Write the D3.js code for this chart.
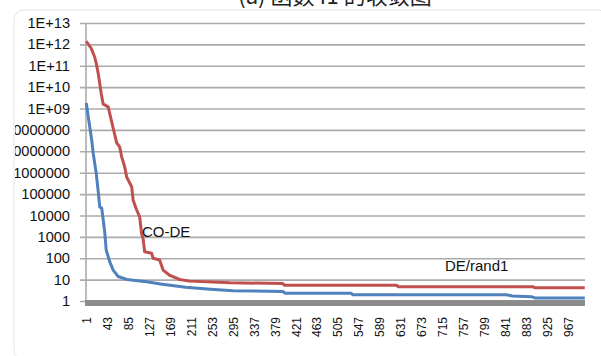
<!DOCTYPE html>
<html>
<head>
<meta charset="utf-8">
<script src="https://cdn.jsdelivr.net/npm/d3@7"></script>
<style>
  html, body { margin: 0; padding: 0; background: #fff; }
  svg { display: block; }
</style>
</head>
<body>
<svg id="chart" width="601" height="356"></svg>
<script>
// Convergence of best fitness per generation (log scale)
const redGen = [1, 11, 18, 21, 25, 28, 31, 35, 45, 48, 55, 62, 68, 72, 78, 82, 92, 95, 102, 108, 112, 115, 118, 132, 135, 148, 155, 168, 188, 208, 289, 395, 398, 623, 626, 896, 900, 1000];
const redVal = [1.4e12, 6.5e11, 2.5e11, 1.3e11, 4.4e10, 1.5e10, 5e9, 1.6e9, 1.2e9, 5.9e8, 1.2e8, 2.5e7, 1.6e7, 5.5e6, 1.9e6, 6.3e5, 2.2e5, 5.2e4, 1.8e4, 8.7e3, 1.4e3, 800, 200, 170, 100, 83, 28, 16, 10.2, 8.5, 7.1, 6.6, 5.5, 5.5, 4.7, 4.7, 4.2, 4.2];

const blueGen = [1, 6, 12, 15, 21, 25, 28, 32, 35, 38, 41, 48, 55, 65, 82, 122, 150, 200, 250, 295, 395, 400, 532, 535, 843, 855, 893, 900, 1000];
const blueVal = [1.8e9, 2.9e8, 3.3e7, 7.9e6, 9.3e5, 1.3e5, 2.5e4, 2.2e4, 6.2e3, 1.7e3, 240, 69, 28, 14, 10.2, 7.9, 6.3, 4.4, 3.5, 3.0, 2.8, 2.3, 2.3, 1.95, 1.95, 1.7, 1.6, 1.4, 1.4];

const yTickValues = [1, 10, 100, 1e3, 1e4, 1e5, 1e6, 1e7, 1e8, 1e9, 1e10, 1e11, 1e12, 1e13];
const yTickLabels = ["1", "10", "100", "1000", "10000", "100000", "1000000", "10000000", "100000000", "1E+09", "1E+10", "1E+11", "1E+12", "1E+13"];
const xTickLabels = [1, 43, 85, 127, 169, 211, 253, 295, 337, 379, 421, 463, 505, 547, 589, 631, 673, 715, 757, 799, 841, 883, 925, 967];

const seriesNames = ["CO-DE", "DE/rand1"];

const svg = d3.select("#chart");
const plotLeft = 86, plotRight = 585, plotTop = 23, plotBottom = 301;
const frameLeft = 14;

const x = d3.scaleLinear().domain([0.5, 1000.5]).range([plotLeft, plotRight]);
const y = d3.scaleLog().domain([1, 1e13]).range([plotBottom, plotTop]);

// value labels are clipped to the chart frame
svg.append("defs").append("clipPath").attr("id", "frameClip")
  .append("rect")
  .attr("x", frameLeft + 1).attr("y", 0)
  .attr("width", 601).attr("height", 356);

// title (partly above the frame)
svg.append("text")
  .attr("x", 335).attr("y", 4)
  .attr("text-anchor", "middle")
  .attr("font-family", "Noto Sans CJK SC, sans-serif")
  .attr("font-size", 22)
  .attr("fill", "#222")
  .text("(a) 函数 f1 的收敛图");

// chart area border
svg.append("rect")
  .attr("x", frameLeft).attr("y", 10).attr("width", 594).attr("height", 350)
  .attr("rx", 10)
  .attr("fill", "none").attr("stroke", "#e4e4e4").attr("stroke-width", 1);

// horizontal gridlines with tick stubs
const yAxis = d3.axisLeft(y)
  .tickValues(yTickValues)
  .tickSize(plotRight - plotLeft + 6)
  .tickFormat((d, i) => yTickLabels[i]);

const gy = svg.append("g")
  .attr("transform", `translate(${plotRight},0)`)
  .call(yAxis);
gy.select(".domain").remove();
gy.selectAll(".tick line").attr("stroke", "#ababab").attr("stroke-width", 1.6);
gy.selectAll(".tick text").remove();

// value axis labels, in a group clipped at the frame edge
svg.append("g")
  .attr("clip-path", "url(#frameClip)")
  .selectAll("text")
  .data(yTickValues)
  .join("text")
  .attr("x", 70)
  .attr("y", d => y(d))
  .attr("dy", "0.35em")
  .attr("text-anchor", "end")
  .attr("font-family", "Liberation Sans, Arial, sans-serif")
  .attr("font-size", 14.6)
  .attr("fill", "#111")
  .text((d, i) => yTickLabels[i]);

// vertical axis line
svg.append("line")
  .attr("x1", plotLeft).attr("x2", plotLeft)
  .attr("y1", plotTop).attr("y2", plotBottom)
  .attr("stroke", "#ababab").attr("stroke-width", 1.6);

// category axis
const xAxis = d3.axisBottom(x)
  .tickValues(xTickLabels)
  .tickSize(0)
  .tickFormat(d => String(d));
const gx = svg.append("g")
  .attr("transform", `translate(0,${plotBottom})`)
  .call(xAxis);
gx.select(".domain").remove();
gx.selectAll(".tick text")
  .attr("transform", "rotate(-90)")
  .attr("x", -16).attr("y", 0)
  .attr("dy", "0.35em")
  .attr("text-anchor", "end")
  .attr("font-family", "Liberation Sans, Arial, sans-serif")
  .attr("font-size", 12)
  .attr("fill", "#111");

// thick base line
svg.append("rect")
  .attr("x", plotLeft - 1).attr("y", plotBottom - 1)
  .attr("width", plotRight - plotLeft + 1).attr("height", 6)
  .attr("fill", "#8c8c8c");

const line = d3.line()
  .x(d => x(d[0]))
  .y(d => y(d[1]));

svg.append("path")
  .datum(d3.zip(blueGen, blueVal))
  .attr("d", line)
  .attr("fill", "none")
  .attr("stroke", "#4F81BD")
  .attr("stroke-width", 3)
  .attr("stroke-linejoin", "round");

svg.append("path")
  .datum(d3.zip(redGen, redVal))
  .attr("d", line)
  .attr("fill", "none")
  .attr("stroke", "#C0504D")
  .attr("stroke-width", 3)
  .attr("stroke-linejoin", "round");

// series labels
svg.append("text")
  .attr("x", 142).attr("y", 237)
  .attr("font-family", "Liberation Sans, Arial, sans-serif")
  .attr("font-size", 15)
  .attr("fill", "#111")
  .text(seriesNames[0]);

svg.append("text")
  .attr("x", 445).attr("y", 271)
  .attr("font-family", "Liberation Sans, Arial, sans-serif")
  .attr("font-size", 15)
  .attr("fill", "#111")
  .text(seriesNames[1]);
</script>
</body>
</html>
